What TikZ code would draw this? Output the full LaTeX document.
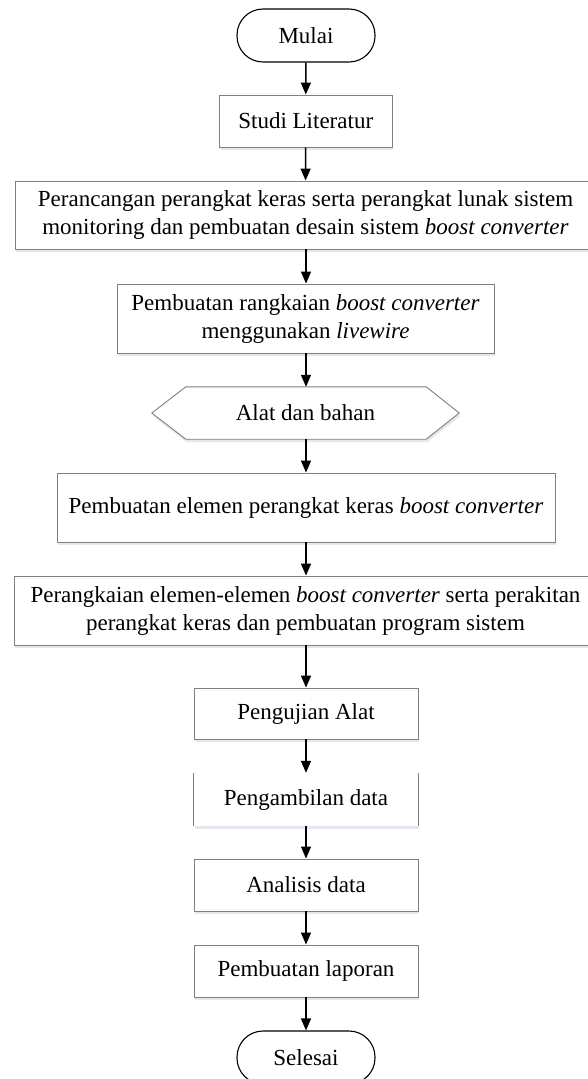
\documentclass[tikz,border=0pt]{standalone}
\usepackage{fontspec}
\setmainfont{Liberation Serif}
\usetikzlibrary{arrows.meta,shadows}
\definecolor{boxgray}{RGB}{128,128,128}
\definecolor{shadowc}{RGB}{195,205,222}
\tikzset{
  base/.style={inner sep=0pt, align=center, font=\fontsize{23}{28}\selectfont},
  term/.style={base, draw=black, line width=1.1pt, rounded corners=26pt, fill=white, minimum width=138pt, minimum height=53pt},
  procbox/.style={base, draw=boxgray, line width=0.9pt, fill=white,
     drop shadow={shadow xshift=1pt, shadow yshift=-3pt, opacity=0.45, fill=shadowc}},
  plain/.style={base},
  boxline/.style={draw=boxgray, line width=0.9pt},
  flow/.style={draw=black, line width=1.4pt, -{Triangle[length=12pt,width=10pt]}}
}
\begin{document}
\begin{tikzpicture}[x=1pt,y=-1pt]
\path[fill=white,use as bounding box] (0,0) rectangle (587,1079);

\node[term] (mulai) at (306,35.5) {Mulai};
\node[procbox, minimum width=172.5pt, minimum height=52pt] (studi) at (305.75,121) {Studi Literatur};
\node[procbox, minimum width=581pt, minimum height=68pt] (peran) at (305.5,215) {Perancangan perangkat keras serta perangkat lunak sistem\\monitoring dan pembuatan desain sistem \textit{boost converter}};
\node[procbox, minimum width=377pt, minimum height=69pt] (rangk) at (305.5,318.5) {Pembuatan rangkaian \textit{boost converter}\\menggunakan \textit{livewire}};

\node[plain, minimum width=307pt, minimum height=52pt] (alat) at (305.5,413) {};
\path[boxline, fill=white, drop shadow={shadow xshift=1pt, shadow yshift=-3pt, opacity=0.45, fill=shadowc}]
  (alat.west) -- ([xshift=34pt]alat.north west) -- ([xshift=-33pt]alat.north east)
  -- (alat.east) -- ([xshift=-33pt]alat.south east) -- ([xshift=34pt]alat.south west) -- cycle;
\node[plain] (alattxt) at (alat.center) {Alat dan bahan};

\node[procbox, minimum width=498pt, minimum height=69pt] (elemen) at (306,507.5) {Pembuatan elemen perangkat keras \textit{boost converter}};
\node[procbox, minimum width=583pt, minimum height=69pt] (rakit) at (305.5,610.5) {Perangkaian elemen-elemen \textit{boost converter} serta perakitan\\perangkat keras dan pembuatan program sistem};
\node[procbox, minimum width=224pt, minimum height=51pt] (uji) at (306,713.5) {Pengujian Alat};

\node[plain, minimum width=224pt, minimum height=53pt] (ambil) at (306,799.5) {};
\fill[shadowc, opacity=0.45] ([xshift=1pt,yshift=-3pt]ambil.south west) rectangle ([xshift=1pt]ambil.south east);
\fill[white] (ambil.north west) rectangle (ambil.south east);
\draw[boxline] (ambil.north west) -- (ambil.south west);
\draw[boxline] (ambil.north east) -- (ambil.south east);
\node[plain] (ambiltxt) at (ambil.center) {Pengambilan data};

\node[procbox, minimum width=224pt, minimum height=52pt] (anal) at (306,885) {Analisis data};
\node[procbox, minimum width=224pt, minimum height=52pt] (lapor) at (306,971) {Pembuatan laporan};
\node[term] (selesai) at (306,1057.5) {Selesai};

\draw[flow] (mulai) -- (studi);
\draw[flow] (studi) -- (peran);
\draw[flow] (peran.south -| mulai.south) -- (rangk.north -| mulai.south);
\draw[flow] (rangk.south -| mulai.south) -- (alat.north -| mulai.south);
\draw[flow] (alat.south -| mulai.south) -- (elemen.north -| mulai.south);
\draw[flow] (elemen.south -| mulai.south) -- (rakit.north -| mulai.south);
\draw[flow] (rakit.south -| mulai.south) -- (uji.north);
\draw[flow] (uji) -- (ambil);
\draw[flow] (ambil) -- (anal);
\draw[flow] (anal) -- (lapor);
\draw[flow] (lapor) -- (selesai);
\end{tikzpicture}
\end{document}
